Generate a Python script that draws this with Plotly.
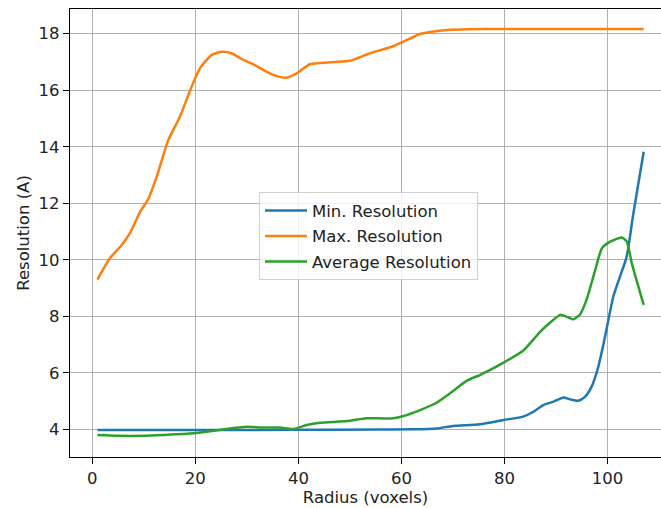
import plotly.graph_objects as go

# ---- data ----
min_x = [1, 20, 40, 55, 62, 66.8, 70, 75.2, 79.8, 83.6, 85.6, 87.5, 89.5, 91.4, 92.7,
         94.3, 95.6, 96.9, 98.2, 99.5, 101.1, 102.4, 103.7, 105, 107]
min_y = [3.975, 3.975, 3.98, 3.99, 4.0, 4.03, 4.12, 4.18, 4.33, 4.45, 4.62, 4.86, 4.98, 5.13, 5.06,
         5.01, 5.15, 5.51, 6.22, 7.28, 8.69, 9.40, 10.11, 11.64, 13.82]

max_x = [1, 3.4, 5.7, 7.3, 9.3, 10.9, 12.5, 14.75, 17, 19, 20.9, 23.2, 25.1, 27, 29.3,
         31.2, 33.8, 35.8, 37.7, 39.7, 42.2, 44.2, 47, 50, 53.9, 57.8, 60.4, 63.6, 66.2,
         68.8, 72.7, 80, 90, 100, 107]
max_y = [9.3, 10.05, 10.52, 10.94, 11.70, 12.17, 12.94, 14.24, 15.06, 16.0, 16.78, 17.25, 17.36, 17.31, 17.07,
         16.92, 16.66, 16.50, 16.44, 16.6, 16.92, 16.96, 17.0, 17.04, 17.31, 17.52, 17.72, 17.99, 18.08,
         18.13, 18.16, 18.17, 18.17, 18.17, 18.17]

avg_x = [1, 5, 10, 13.8, 19.6, 23.5, 26.7, 30, 33.2, 36.4, 39, 41.6, 44.2, 49.4, 53.2,
         55.8, 58, 60.4, 63.6, 66.8, 69.4, 72.7, 75.2, 77.2, 79.8, 83.6, 86.9, 88.8, 90.8,
         92.1, 93.3, 94.6, 95.9, 97.6, 98.9, 100.5, 102.7, 103.7, 104.7, 107]
avg_y = [3.80, 3.77, 3.77, 3.80, 3.86, 3.95, 4.03, 4.09, 4.06, 4.06, 4.01, 4.15, 4.23, 4.29, 4.39,
         4.39, 4.38, 4.47, 4.68, 4.94, 5.27, 5.72, 5.92, 6.10, 6.36, 6.78, 7.45, 7.77, 8.05,
         7.98, 7.89, 8.05, 8.58, 9.64, 10.41, 10.64, 10.79, 10.65, 9.87, 8.40]

x_ticks = [0, 20, 40, 60, 80, 100]
y_ticks = [4, 6, 8, 10, 12, 14, 16, 18]

FONT = "DejaVu Sans"
FS = 16.5
TXT = "#222222"

fig = go.Figure()
fig.add_trace(go.Scatter(x=min_x, y=min_y, mode="lines", name="Min. Resolution",
                         line=dict(color="#1f77b4", width=2.5, shape="spline", smoothing=0.6),
                         legendgroup="a"))
fig.add_trace(go.Scatter(x=max_x, y=max_y, mode="lines", name="Max. Resolution",
                         line=dict(color="#ff7f0e", width=2.5, shape="spline", smoothing=0.6),
                         legendgroup="b"))
fig.add_trace(go.Scatter(x=avg_x, y=avg_y, mode="lines", name="Average Resolution",
                         line=dict(color="#2ca02c", width=2.5, shape="spline", smoothing=0.6),
                         legendgroup="c"))

axis_common = dict(
    showgrid=True, gridcolor="#b0b0b0", gridwidth=1.3,
    zeroline=False, showline=True, linecolor="black", linewidth=1.3,
    ticks="outside", ticklen=6, tickwidth=1.3, tickcolor="black",
    tickfont=dict(family=FONT, size=FS, color=TXT),
)

fig.update_layout(
    width=661, height=508,
    margin=dict(l=70, r=0, t=9, b=51),
    paper_bgcolor="white", plot_bgcolor="white",
    font=dict(family=FONT, size=FS, color=TXT),
    showlegend=True,
    legend=dict(
        x=0.3198, y=0.5908, xanchor="left", yanchor="top",
        bgcolor="rgba(255,255,255,0.8)", bordercolor="#d0d0d0", borderwidth=1,
        font=dict(family=FONT, size=FS, color=TXT),
        traceorder="grouped", tracegroupgap=1, itemwidth=42,
    ),
    xaxis=dict(range=[-4.33, 110.36], tickvals=x_ticks, mirror=True,
               title=dict(text="Radius (voxels)", font=dict(family=FONT, size=FS, color=TXT), standoff=4),
               **axis_common),
    yaxis=dict(range=[3.020, 18.874], tickvals=y_ticks,
               title=dict(text="Resolution (A)", font=dict(family=FONT, size=FS, color=TXT), standoff=4),
               **axis_common),
)

fig.write_html(
    "out.html",
    config={"displayModeBar": False},
    post_script="document.body.style.margin='0px';document.documentElement.style.overflow='hidden';",
)
